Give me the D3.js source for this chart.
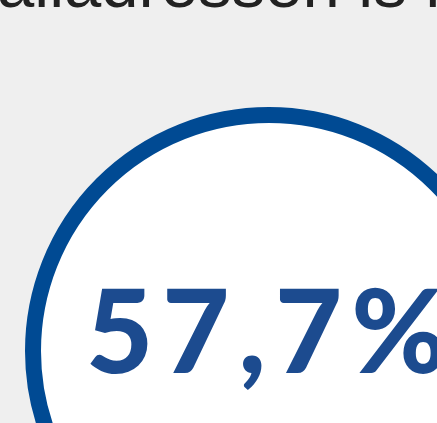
<!DOCTYPE html>
<html>
<head>
<meta charset="utf-8">
<script src="https://cdn.jsdelivr.net/npm/d3@7"></script>
<style>
  html, body { margin: 0; padding: 0; background: #efefef; overflow: hidden; }
</style>
</head>
<body>
<div id="kaart"></div>
<script>
/* grote kerncijfer: aandeel e-mailadressen, in een cirkel */
const titel = ["Het aandeel geldige e-mailadressen is hoog"]
const waarden = [57.7]
const eenheid = ["%"]

const width = 437,
    height = 423

const svg = d3.select("#kaart").append("svg")
    .attr("width", width)
    .attr("height", height)

svg.append("rect")
    .attr("width", width)
    .attr("height", height)
    .attr("fill", "#efefef")

/* cirkel */
const cirkel = { cx: 269, cy: 351, r: 236 }
svg.append("circle")
    .attr("cx", cirkel.cx)
    .attr("cy", cirkel.cy)
    .attr("r", cirkel.r)
    .attr("fill", "#ffffff")
    .attr("stroke", "#004a93")
    .attr("stroke-width", 16)

/* titel, grotendeels buiten beeld */
const t = svg.append("text")
    .attr("y", 7)
    .attr("font-family", "Liberation Sans, Arial, sans-serif")
    .attr("font-size", 67)
    .attr("fill", "#222222")
    .text(titel[0])
const start = titel[0].indexOf("ailadressen")
const offset = t.node().getSubStringLength(0, start)
t.attr("x", -offset - 3)

/* het getal */
const fmt = d3.formatLocale({ decimal: ",", thousands: ".", grouping: [3], currency: ["", "€"] }).format(".1f")
svg.selectAll("text.getal")
    .data(waarden)
    .join("text")
    .attr("class", "getal")
    .attr("x", 86)
    .attr("y", 373)
    .attr("font-family", "Lato, sans-serif")
    .attr("font-weight", 900)
    .attr("font-size", 116)
    .attr("letter-spacing", 9)
    .attr("fill", "#1c4b8f")
    .text(d => fmt(d) + eenheid[0])
</script>
</body>
</html>
